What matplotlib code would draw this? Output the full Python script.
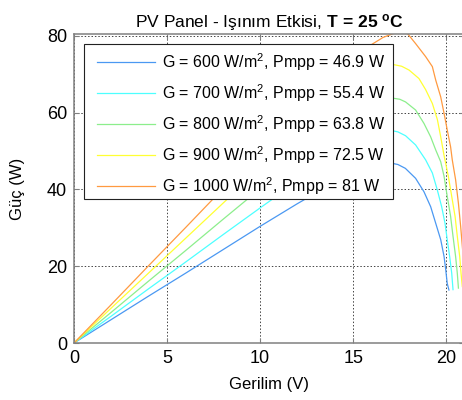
import matplotlib
matplotlib.use("Agg")
import matplotlib.pyplot as plt
from matplotlib.patches import Rectangle

plt.rcParams["font.family"] = ["Liberation Sans", "DejaVu Sans"]
plt.rcParams["mathtext.fontset"] = "custom"
plt.rcParams["mathtext.rm"] = "Liberation Sans"
plt.rcParams["mathtext.it"] = "Liberation Sans:italic"
plt.rcParams["mathtext.bf"] = "Liberation Sans:bold"

# irradiance levels and max power points
irradiance = [600, 700, 800, 900, 1000]
pmpp = ["46.9", "55.4", "63.8", "72.5", "81"]
colors = ["#4a98f2", "#4dffff", "#8cee8c", "#ffff33", "#ff9a40"]

# voltage (V) / power (W)
v_600 = [0, 2, 4, 6, 8, 10, 12, 13, 14, 15, 16, 16.5, 17.0, 17.4, 17.8, 18.35,
         18.8, 19.16, 19.43, 19.7, 19.88, 19.97, 20.05, 20.14]
p_600 = [0, 6.1, 12.2, 18.2, 24.3, 30.4, 36.3, 39.1, 41.7, 44.0, 45.9, 46.6, 46.9, 46.5, 45.5, 42.9,
         39.4, 35.5, 31.2, 26.9, 22.5, 19.0, 15.5, 13.8]

v_700 = [0, 2, 4, 6, 8, 10, 12, 13, 14, 15, 16, 16.5, 17.0, 17.4, 17.81, 18.35, 18.89,
         19.25, 19.52, 19.75, 19.93, 20.05, 20.18, 20.29, 20.36]
p_700 = [0, 7.0, 14.1, 21.1, 28.2, 35.2, 42.1, 45.3, 48.3, 51.0, 53.5, 54.6, 55.4, 55.0, 54.0, 51.6, 47.7,
         44.3, 39.8, 35.5, 31.2, 26.9, 22.5, 18.2, 13.9]

v_800 = [0, 2, 4, 6, 8, 10, 12, 13, 14, 15, 16, 16.6, 17.1, 17.5, 17.81, 18.35, 18.8, 19.16,
         19.43, 19.7, 19.88, 20.05, 20.23, 20.36, 20.5, 20.59, 20.65]
p_800 = [0, 8.0, 16.1, 24.1, 32.2, 40.2, 48.1, 51.9, 55.4, 58.6, 61.5, 63.0, 63.8, 63.5, 62.8, 60.7, 57.2, 53.7,
         50.3, 47.2, 43.4, 38.2, 33.0, 27.8, 22.5, 18.2, 14.3]

v_900 = [0, 2, 4, 6, 8, 10, 12, 13, 14, 15, 16, 16.6, 17.2, 17.6, 18.0, 18.53, 18.89, 19.25,
         19.52, 19.7, 19.88, 20.0, 20.11, 20.29, 20.47, 20.59, 20.72, 20.79, 20.86]
p_900 = [0, 9.1, 18.2, 27.3, 36.4, 45.5, 54.6, 58.8, 62.8, 66.4, 69.6, 71.2, 72.5, 72.1, 71.1, 68.9, 66.0, 62.4,
         58.2, 53.7, 48.8, 46.0, 43.4, 38.2, 33.0, 27.8, 22.5, 18.2, 14.7]

v_1000 = [0, 2, 4, 6, 8, 10, 12, 13, 14, 15, 16, 16.6, 17.2, 17.6, 17.9, 18.35, 18.89, 19.25,
          19.43, 19.7, 19.88, 20.05, 20.23, 20.32, 20.5, 20.65, 20.77, 20.86, 20.95, 21.05]
p_1000 = [0, 10.0, 20.1, 30.1, 40.2, 50.2, 60.1, 64.8, 69.3, 73.6, 77.8, 79.6, 80.7, 81.0, 80.7, 78.0, 74.6, 72.0,
          68.5, 64.1, 59.8, 55.5, 51.1, 47.7, 42.5, 36.4, 30.4, 25.2, 20.0, 15.0]

voltages = [v_600, v_700, v_800, v_900, v_1000]
powers = [p_600, p_700, p_800, p_900, p_1000]

fig = plt.figure(figsize=(4.62, 4.00), dpi=100)
ax = fig.add_axes([74 / 462, 57 / 400, 390 / 462, 309 / 400])

for g, pm, c, v, p in zip(irradiance, pmpp, colors, voltages, powers):
    ax.plot(v, p, color=c, lw=0.9, label=f"G = {g} W/m$^2$, Pmpp = {pm} W")

ax.set_xlim(0, 20.95)
ax.set_ylim(0, 80.5)
ax.set_xticks([0, 5, 10, 15, 20])
ax.set_yticks([0, 20, 40, 60, 80])
ax.grid(True, color="#444444", linestyle=(0, (1.5, 2)), lw=0.7)

for s in ax.spines.values():
    s.set_color("#808080")
    s.set_linewidth(1.1)
ax.tick_params(direction="in", top=True, right=True, length=3.5, width=0.8,
               color="#808080", labelsize=13, pad=5)

ax.set_title(r"PV Panel - Işınım Etkisi, $\mathbf{T\,=\,25\ {}^{o}C}$", fontsize=12.5, pad=5)
ax.set_xlabel("Gerilim (V)", fontsize=12)
ax.set_ylabel("Güç (W)", fontsize=12)
ax.xaxis.set_label_coords(0.5, -0.11)
ax.yaxis.set_label_coords(-0.125, 0.5)

# legend box drawn separately so the padding can match the original
box = Rectangle((0.0256, 0.466), 0.7915, 0.5007, transform=ax.transAxes,
                facecolor="white", edgecolor="#222222", lw=0.8, zorder=5)
ax.add_patch(box)
leg = ax.legend(loc="upper left", bbox_to_anchor=(0.0597, 0.944), borderaxespad=0,
                fontsize=11.5, handlelength=3.6, handletextpad=0.45, labelspacing=0.58,
                borderpad=0, frameon=False)
leg.set_zorder(6)

fig.savefig("out.png", dpi=100)
